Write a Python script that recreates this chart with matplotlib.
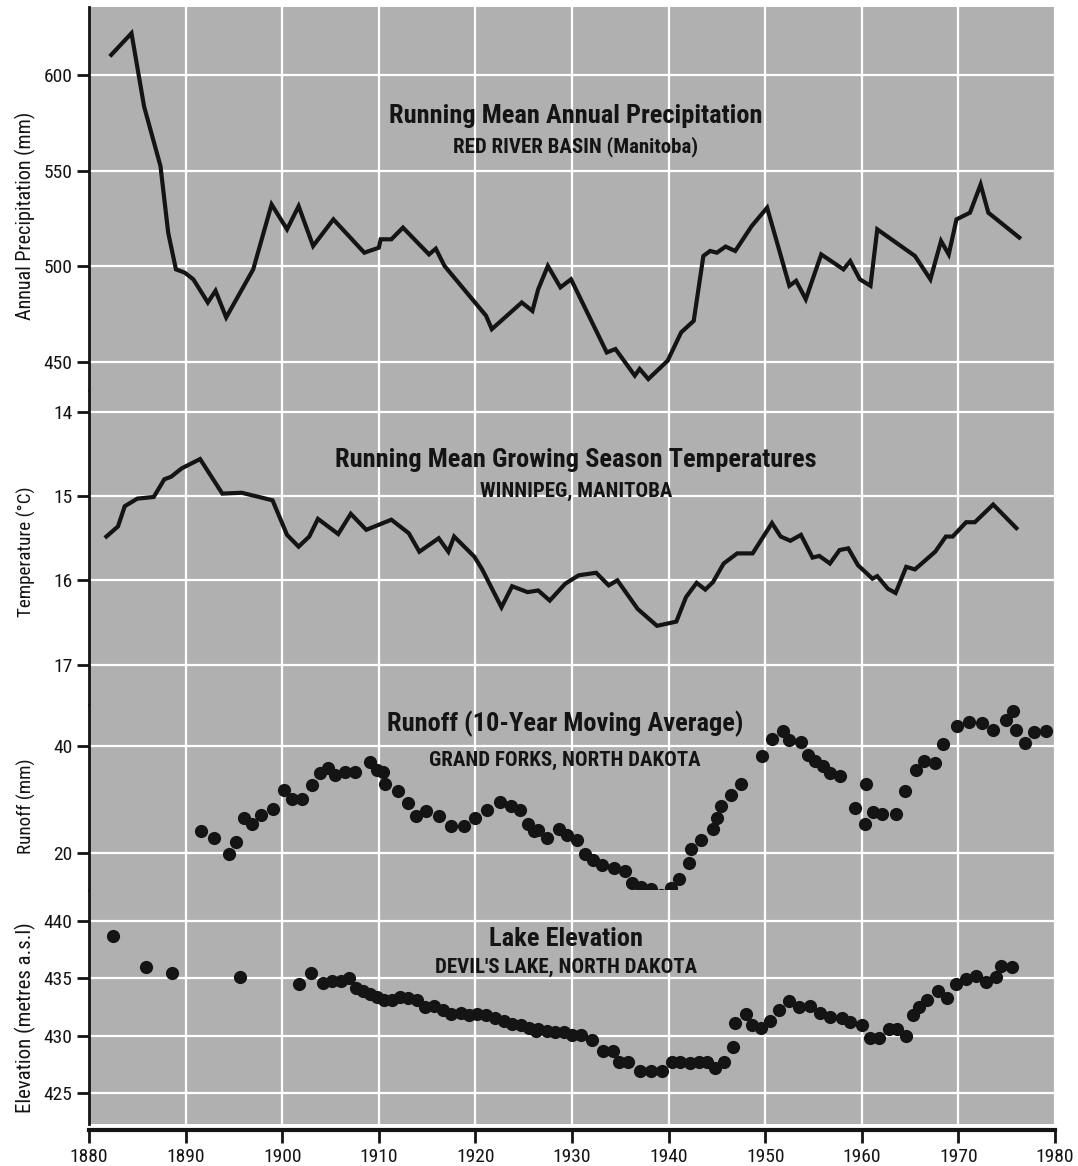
import matplotlib
matplotlib.use("Agg")
import matplotlib.pyplot as plt

COND = ['Roboto Condensed', 'PT Sans Narrow', 'Archivo Narrow', 'Barlow Condensed', 'DejaVu Sans']
plt.rcParams['font.family'] = COND

# Running mean annual precipitation, Red River basin (mm)
precip_years = [1882.3, 1884.4, 1885.7, 1887.4, 1888.2, 1889.0, 1889.9, 1890.8, 1892.3, 1893.1,
                1894.2, 1897.0, 1898.9, 1900.5, 1901.7, 1903.2, 1905.3, 1908.5, 1910.0, 1910.2,
                1911.3, 1912.5, 1915.2, 1915.9, 1916.8, 1921.1, 1921.7, 1924.8, 1925.9, 1926.5,
                1927.5, 1928.8, 1929.9, 1933.6, 1934.5, 1936.5, 1937.0, 1937.9, 1939.9, 1941.3,
                1942.6, 1943.6, 1944.3, 1945.0, 1945.9, 1946.9, 1948.6, 1950.2, 1952.5, 1953.2,
                1954.2, 1955.8, 1958.1, 1958.8, 1959.8, 1960.9, 1961.6, 1965.5, 1967.1, 1968.2,
                1969.0, 1969.8, 1971.2, 1972.3, 1973.1, 1976.3]
precip_mm = [610.4, 621.7, 583.5, 552.3, 517.5, 498.4, 496.7, 493.2, 481.1, 487.2,
             473.3, 498.4, 532.3, 519.3, 531.4, 510.6, 524.5, 507.1, 509.7, 514.1,
             514.1, 520.2, 506.2, 509.2, 500.2, 474.2, 467.2, 481.1, 476.7, 488.0,
             500.2, 489.0, 493.2, 455.0, 456.8, 442.9, 446.4, 441.1, 450.7, 465.5,
             471.5, 505.4, 508.0, 507.1, 510.3, 508.0, 521.0, 530.6, 489.8, 492.4,
             482.8, 506.2, 498.4, 502.7, 493.2, 489.8, 519.3, 505.4, 493.2, 513.2,
             506.2, 524.5, 528.0, 542.7, 528.0, 515.0]

# Running mean growing season temperature, Winnipeg (deg C)
temp_years = [1881.8, 1883.0, 1883.7, 1885.0, 1886.7, 1887.8, 1888.5, 1889.6, 1891.5, 1893.8,
              1895.8, 1897.6, 1899.0, 1900.5, 1901.7, 1902.8, 1903.7, 1905.8, 1907.1, 1908.7,
              1911.3, 1913.1, 1914.2, 1916.2, 1917.2, 1917.8, 1919.9, 1920.7, 1922.7, 1923.8,
              1925.4, 1926.5, 1927.7, 1929.3, 1930.7, 1932.5, 1933.8, 1934.7, 1936.8, 1938.8,
              1940.8, 1941.8, 1942.9, 1943.8, 1944.6, 1945.7, 1947.1, 1948.7, 1950.7, 1951.6,
              1952.6, 1953.7, 1954.9, 1955.6, 1956.7, 1957.7, 1958.6, 1959.6, 1961.1, 1961.6,
              1962.7, 1963.5, 1964.6, 1965.5, 1967.6, 1968.7, 1969.4, 1970.8, 1971.7, 1973.6,
              1976.0]
temp_c = [15.48, 15.36, 15.12, 15.03, 15.01, 14.80, 14.77, 14.67, 14.56, 14.97,
          14.96, 15.01, 15.05, 15.46, 15.60, 15.48, 15.27, 15.45, 15.21, 15.40,
          15.28, 15.44, 15.66, 15.50, 15.66, 15.48, 15.72, 15.87, 16.32, 16.07,
          16.14, 16.12, 16.24, 16.04, 15.94, 15.91, 16.06, 16.00, 16.34, 16.54,
          16.49, 16.20, 16.03, 16.11, 16.02, 15.80, 15.68, 15.68, 15.32, 15.48,
          15.53, 15.46, 15.73, 15.71, 15.80, 15.64, 15.62, 15.82, 15.98, 15.95,
          16.10, 16.15, 15.84, 15.87, 15.66, 15.48, 15.48, 15.31, 15.31, 15.10,
          15.38]

# Runoff, 10-year moving average, Grand Forks (mm)
runoff_years = [1891.6, 1892.9, 1894.5, 1895.2, 1896.0, 1896.9, 1897.8, 1899.0, 1900.2, 1901.0,
                1902.1, 1903.1, 1903.9, 1904.7, 1905.5, 1906.5, 1907.5, 1909.1, 1909.8, 1910.4,
                1910.6, 1912.0, 1913.0, 1913.9, 1914.9, 1916.2, 1917.5, 1918.8, 1920.0, 1921.2,
                1922.5, 1923.7, 1924.6, 1925.4, 1926.1, 1926.5, 1927.4, 1928.7, 1929.5, 1930.5,
                1931.3, 1932.2, 1933.1, 1934.3, 1935.5, 1936.2, 1937.1, 1938.2, 1939.2, 1940.2,
                1941.1, 1942.1, 1942.3, 1943.4, 1944.6, 1945.0, 1945.4, 1946.5, 1947.5, 1949.7,
                1950.7, 1951.8, 1952.5, 1953.7, 1954.4, 1955.2, 1956.0, 1956.7, 1957.7, 1959.3,
                1960.3, 1960.4, 1961.2, 1962.1, 1963.5, 1964.5, 1965.6, 1966.4, 1967.6, 1968.4,
                1969.9, 1971.1, 1972.4, 1973.6, 1974.9, 1975.7, 1976.0, 1976.9, 1977.8, 1979.1]
runoff_mm = [24.2, 22.9, 19.9, 22.1, 26.5, 25.4, 27.1, 28.2, 31.8, 30.1,
             30.1, 32.7, 34.9, 36.0, 34.7, 35.1, 35.1, 37.1, 35.6, 35.2,
             32.9, 31.6, 29.4, 26.9, 27.9, 26.9, 25.1, 25.1, 26.5, 28.0,
             29.6, 28.8, 28.0, 25.5, 24.2, 24.3, 22.9, 24.6, 23.4, 22.4,
             19.9, 18.7, 17.8, 17.3, 16.7, 14.4, 13.7, 13.2, 12.1, 13.4,
             15.1, 18.1, 20.7, 22.4, 24.6, 26.6, 28.8, 30.8, 33.0, 38.1,
             41.3, 42.9, 41.1, 40.8, 38.3, 37.2, 36.3, 34.9, 34.4, 28.4,
             25.5, 33.0, 27.7, 27.3, 27.3, 31.6, 35.5, 37.3, 36.8, 40.4,
             43.8, 44.5, 44.4, 43.0, 44.9, 46.5, 43.1, 40.6, 42.7, 42.9]

# Devil's Lake elevation (metres a.s.l.)
lake_years = [1882.5, 1885.9, 1888.6, 1895.6, 1901.7, 1903.0, 1904.2, 1905.2, 1906.1, 1906.9,
              1907.6, 1908.4, 1909.1, 1909.8, 1910.5, 1911.4, 1912.2, 1913.0, 1914.0, 1914.8,
              1915.7, 1916.6, 1917.5, 1918.5, 1919.3, 1920.2, 1921.1, 1922.0, 1923.0, 1923.8,
              1924.7, 1925.6, 1926.3, 1926.5, 1927.4, 1928.2, 1929.2, 1930.0, 1930.9, 1932.1,
              1933.2, 1934.2, 1934.9, 1935.8, 1937.0, 1938.2, 1939.3, 1940.4, 1941.2, 1942.2,
              1943.1, 1944.0, 1944.8, 1945.7, 1946.7, 1946.9, 1948.0, 1948.6, 1949.6, 1950.5,
              1951.4, 1952.5, 1953.5, 1954.6, 1955.7, 1956.7, 1958.0, 1958.8, 1960.0, 1960.8,
              1961.8, 1962.8, 1963.6, 1964.6, 1965.3, 1965.9, 1966.7, 1967.9, 1968.8, 1969.8,
              1970.8, 1971.8, 1972.9, 1973.9, 1974.4, 1975.5]
lake_m = [438.7, 436.0, 435.5, 435.1, 434.5, 435.5, 434.6, 434.8, 434.8, 435.0,
          434.2, 433.9, 433.6, 433.4, 433.1, 433.1, 433.4, 433.3, 433.1, 432.5,
          432.6, 432.2, 431.9, 432.0, 431.8, 431.9, 431.8, 431.5, 431.3, 431.0,
          430.9, 430.7, 430.4, 430.6, 430.4, 430.3, 430.3, 430.1, 430.1, 429.6,
          428.7, 428.7, 427.7, 427.7, 426.9, 426.9, 426.9, 427.7, 427.7, 427.6,
          427.7, 427.7, 427.2, 427.7, 429.0, 431.1, 431.9, 430.9, 430.7, 431.3,
          432.2, 433.0, 432.5, 432.6, 432.0, 431.6, 431.5, 431.2, 430.9, 429.8,
          429.8, 430.6, 430.6, 430.0, 431.8, 432.5, 433.1, 433.9, 433.3, 434.5,
          434.9, 435.2, 434.7, 435.1, 436.1, 436.0]

decades = list(range(1880, 1981, 10))

BG = '#b0b0b0'
INK = '#141414'

fig = plt.figure(figsize=(10.78, 11.66), dpi=100)
W, H = 1078.0, 1166.0
X0, X1 = 89, 1055
left, right = X0 / W, X1 / W


def make_axes(top_px, bottom_px):
    ax = fig.add_axes([left, 1 - bottom_px / H, right - left, (bottom_px - top_px) / H])
    ax.set_facecolor(BG)
    ax.set_xlim(1880, 1980)
    ax.set_xticks(decades)
    for s in ('top', 'right', 'bottom'):
        ax.spines[s].set_visible(False)
    ax.spines['left'].set_linewidth(2.0)
    ax.spines['left'].set_color(INK)
    ax.tick_params(axis='y', direction='out', length=9, width=2.0, color=INK,
                   labelsize=14, pad=3, labelcolor=INK)
    ax.tick_params(axis='x', length=0, labelbottom=False)
    ax.grid(True, color='white', linewidth=1.6)
    ax.set_axisbelow(True)
    return ax


ax1 = make_axes(7, 390)
ax2 = make_axes(390, 705)
ax3 = make_axes(705, 890)
ax4 = make_axes(890, 1124)

# Precipitation
ax1.set_ylim(435.4, 635.4)
ax1.set_yticks([450, 500, 550, 600])
ax1.plot(precip_years, precip_mm, color=INK, linewidth=3.0, solid_joinstyle='miter')
ax1.set_ylabel('Annual Precipitation (mm)', fontsize=14.5, color=INK)

# Temperature (inverted axis)
ax2.set_ylim(17.48, 13.74)
ax2.set_yticks([14, 15, 16, 17])
ax2.plot(temp_years, temp_c, color=INK, linewidth=3.0, solid_joinstyle='miter')
ax2.set_ylabel('Temperature (°C)', fontsize=13.8, color=INK)

# Runoff
ax3.set_ylim(13.1, 47.7)
ax3.set_yticks([20, 40])
ax3.plot(runoff_years, runoff_mm, 'o', color=INK, markersize=9.5, markeredgewidth=0)
ax3.set_ylabel('Runoff (mm)', fontsize=13.8, color=INK)

# Lake elevation
ax4.set_ylim(422.3, 442.7)
ax4.set_yticks([425, 430, 435, 440])
ax4.plot(lake_years, lake_m, 'o', color=INK, markersize=9.5, markeredgewidth=0)
ax4.set_ylabel('Elevation (metres a.s.l)', fontsize=15, color=INK)
ax4.spines['bottom'].set_visible(True)
ax4.spines['bottom'].set_linewidth(3.0)
ax4.spines['bottom'].set_color(INK)
ax4.spines['bottom'].set_position(('outward', 4))
ax4.tick_params(axis='x', direction='out', length=9, width=2.0, color=INK,
                labelbottom=True, labelsize=14, pad=4, labelcolor=INK)

label_x = (36 - X0) / (X1 - X0)
for ax, yfrac in ((ax1, 0.454), (ax2, 0.486), (ax3, 0.454), (ax4, 0.453)):
    ax.yaxis.set_label_coords(label_x, yfrac)


def panel_title(title, sub, y_title_px, y_sub_px, x_px=576):
    fig.text(x_px / W, 1 - y_title_px / H, title, ha='center', va='center',
             fontsize=19, fontweight='bold', color=INK)
    fig.text(x_px / W, 1 - y_sub_px / H, sub, ha='center', va='center',
             fontsize=15, fontweight='bold', color=INK)


panel_title('Running Mean Annual Precipitation', 'RED RIVER BASIN (Manitoba)', 116, 147)
panel_title('Running Mean Growing Season Temperatures', 'WINNIPEG, MANITOBA', 460, 491)
panel_title('Runoff (10-Year Moving Average)', 'GRAND FORKS, NORTH DAKOTA', 724, 760, 565)
panel_title('Lake Elevation', "DEVIL'S LAKE, NORTH DAKOTA", 939, 967, 566)

fig.savefig('out.png', dpi=100, facecolor='white')
